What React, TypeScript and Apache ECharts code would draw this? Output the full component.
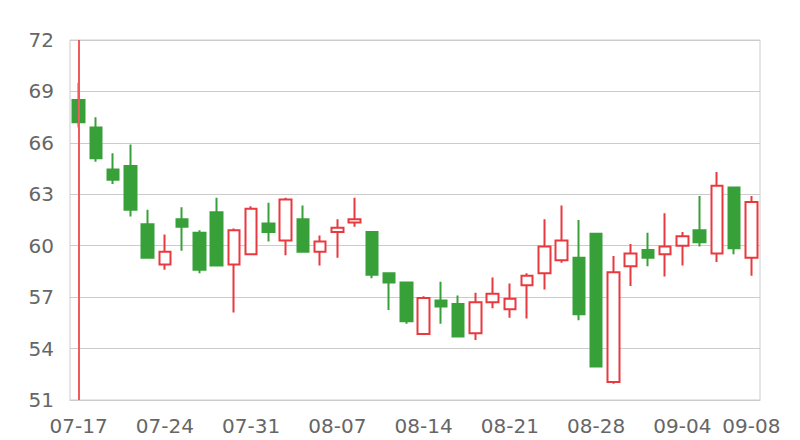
import React, { useEffect, useRef } from "react";
import * as echarts from "echarts";

const dates = [
  "07-17", "07-18", "07-19", "07-20", "07-21",
  "07-24", "07-25", "07-26", "07-27", "07-28",
  "07-31", "08-01", "08-02", "08-03", "08-04",
  "08-07", "08-08", "08-09", "08-10", "08-11",
  "08-14", "08-15", "08-16", "08-17", "08-18",
  "08-21", "08-22", "08-23", "08-24", "08-25",
  "08-28", "08-29", "08-30", "08-31", "09-01",
  "09-04", "09-05", "09-06", "09-07", "09-08",
];

// [open, close, low, high]
const opens = [
  68.5, 66.9, 64.45, 64.65, 61.25, 58.9, 61.55, 60.75, 61.95, 58.9,
  59.5, 61.3, 60.3, 61.55, 59.65, 60.8, 61.35, 60.8, 58.4, 57.85,
  54.85, 56.8, 56.6, 54.9, 56.7, 56.3, 57.7, 58.4, 59.15, 59.3,
  60.7, 52.05, 58.8, 59.75, 59.5, 60.0, 60.9, 59.55, 63.4, 59.3,
];
const closes = [
  67.2, 65.1, 63.85, 62.1, 59.3, 59.65, 61.1, 58.6, 58.85, 60.9,
  62.15, 60.8, 62.7, 59.65, 60.25, 61.05, 61.55, 58.3, 57.85, 55.6,
  56.95, 56.45, 54.7, 56.7, 57.2, 56.9, 58.25, 59.95, 60.3, 56.0,
  52.95, 58.45, 59.55, 59.3, 59.95, 60.55, 60.2, 63.5, 59.85, 62.55,
];
const lows = [
  66.9, 64.9, 63.6, 61.7, 59.25, 58.6, 59.7, 58.4, 58.8, 56.1,
  59.45, 60.25, 59.45, 59.6, 58.85, 59.3, 61.1, 58.1, 56.25, 55.45,
  54.85, 55.45, 54.65, 54.5, 56.35, 55.8, 55.75, 57.45, 59.0, 55.65,
  52.95, 51.95, 57.65, 58.8, 58.2, 58.85, 59.95, 59.05, 59.5, 58.25,
];
const highs = [
  69.5, 67.5, 65.4, 65.9, 62.1, 60.65, 62.25, 60.9, 62.8, 61.0,
  62.3, 62.5, 62.8, 62.35, 60.6, 61.55, 62.8, 60.85, 58.4, 57.9,
  57.05, 57.9, 57.1, 57.25, 58.15, 57.8, 58.4, 61.55, 62.35, 61.5,
  60.7, 59.4, 60.1, 60.75, 61.9, 60.8, 62.9, 64.3, 63.45, 62.9,
];

const yMin = 51;
const yMax = 72;
const yStep = 3;
const markedDate = "07-17";

const UP = "#e8393e";
const DOWN = "#38a038";
const FONT = "'DejaVu Sans', Verdana, sans-serif";

export default function App() {
  const ref = useRef<HTMLDivElement>(null);

  useEffect(() => {
    document.body.style.margin = "0";
    if (!ref.current) return;
    const chart = echarts.init(ref.current, null, { renderer: "svg" });
    const data = dates.map((_, i) => [opens[i], closes[i], lows[i], highs[i]]);
    const last = dates.length - 1;
    chart.setOption({
      animation: false,
      textStyle: { fontFamily: FONT },
      grid: {
        left: 70,
        right: 40,
        top: 40,
        bottom: 40,
        show: true,
        borderColor: "#ccc",
        borderWidth: 1,
      },
      xAxis: {
        type: "category",
        data: dates,
        boundaryGap: true,
        axisLine: { show: true, lineStyle: { color: "#ccc" } },
        axisTick: { show: false },
        axisLabel: {
          color: "#666",
          fontSize: 20,
          fontFamily: FONT,
          margin: 16,
          interval: (i: number) => i % 5 === 0 || i === last,
        },
        splitLine: { show: false },
      },
      yAxis: {
        type: "value",
        min: yMin,
        max: yMax,
        interval: yStep,
        axisLine: { show: false },
        axisTick: { show: false },
        axisLabel: { color: "#666", fontSize: 20, fontFamily: FONT, margin: 16 },
        splitLine: { show: true, lineStyle: { color: "#ccc" } },
      },
      series: [
        {
          type: "line",
          data: [],
          z: 1,
          silent: true,
          markLine: {
            silent: true,
            symbol: ["none", "none"],
            label: { show: false },
            lineStyle: { color: "#f05a5a", width: 2, type: "solid" },
            data: [{ xAxis: markedDate }],
          },
        },
        {
          type: "candlestick",
          data,
          z: 3,
          barWidth: "70%",
          itemStyle: {
            color: "#ffffff",
            color0: DOWN,
            borderColor: UP,
            borderColor0: DOWN,
            borderWidth: 2,
          },
        },
      ],
    });
    return () => chart.dispose();
  }, []);

  return <div ref={ref} style={{ width: 800, height: 440 }} />;
}
